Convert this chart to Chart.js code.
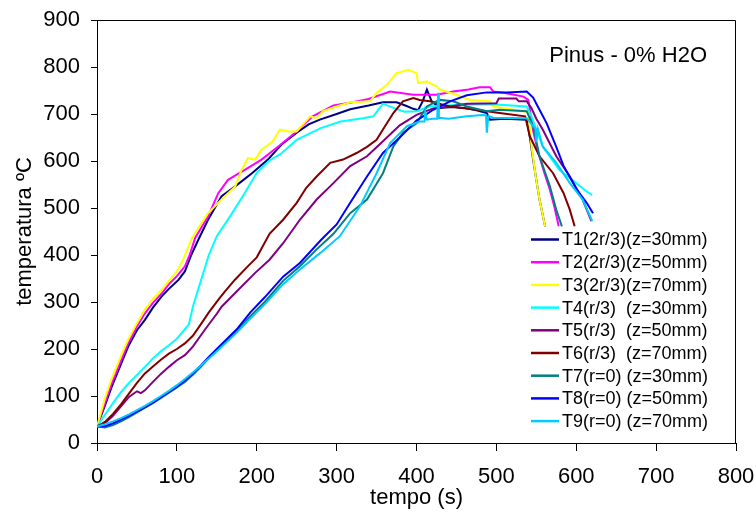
<!DOCTYPE html>
<html>
<head>
<meta charset="utf-8">
<title>Pinus - 0% H2O</title>
<script src="https://cdn.jsdelivr.net/npm/chart.js@4.4.1/dist/chart.umd.min.js"></script>
<style>
  html, body { margin: 0; padding: 0; background: #fff; }
  #grafico { display: block; }
</style>
</head>
<body>
<canvas id="grafico" width="756" height="515"></canvas>
<script>
// ========================================
// Temperaturas dos termopares - Pinus 0% H2O
// tempo (s) x temperatura (ºC)
// ========================================

const nomes = [
  "T1(2r/3)(z=30mm)",
  "T2(2r/3)(z=50mm)",
  "T3(2r/3)(z=70mm)",
  "T4(r/3)  (z=30mm)",
  "T5(r/3)  (z=50mm)",
  "T6(r/3)  (z=70mm)",
  "T7(r=0) (z=30mm)",
  "T8(r=0) (z=50mm)",
  "T9(r=0) (z=70mm)",
]

const t1 = [0, 10, 18, 30, 39, 50, 60, 70, 81, 90, 102, 110, 118, 127, 139, 156, 173, 194, 214, 231, 250, 265, 279, 300, 317, 340, 358, 375, 386, 396, 402, 408, 413, 419, 429, 445, 459, 475, 488, 492, 510, 538, 542, 546, 550, 554, 561]
const v1 = [35, 80, 118, 168, 205, 240, 262, 288, 312, 328, 347, 365, 400, 433, 475, 525, 546, 574, 603, 635, 660, 678, 688, 700, 710, 718, 725, 725, 718, 711, 708, 728, 752, 727, 713, 715, 713, 708, 702, 688, 690, 688, 650, 603, 560, 518, 461]

const t2 = [0, 10, 18, 30, 39, 50, 60, 70, 81, 90, 100, 110, 116, 123, 139, 152, 164, 185, 206, 227, 248, 270, 296, 320, 340, 367, 396, 425, 446, 465, 479, 492, 496, 509, 534, 540, 546, 552, 560, 567, 573, 578]
const v2 = [35, 85, 125, 175, 212, 248, 276, 298, 318, 338, 355, 376, 400, 437, 482, 532, 560, 581, 603, 631, 660, 695, 718, 725, 732, 748, 741, 741, 748, 752, 757, 757, 748, 745, 737, 730, 665, 620, 575, 539, 500, 461]

const t3 = [0, 10, 18, 30, 39, 50, 60, 70, 81, 90, 100, 108, 118, 123, 139, 156, 173, 181, 189, 198, 206, 219, 229, 240, 250, 267, 275, 283, 300, 317, 342, 350, 363, 375, 390, 400, 402, 413, 425, 429, 450, 467, 492, 496, 534, 540, 544, 549, 554, 561]
const v3 = [35, 95, 135, 185, 220, 255, 284, 306, 326, 345, 365, 390, 433, 447, 489, 518, 546, 581, 606, 603, 624, 640, 667, 663, 663, 695, 691, 706, 716, 725, 727, 745, 762, 787, 794, 787, 766, 769, 759, 752, 741, 730, 727, 716, 706, 702, 631, 570, 518, 461]

const t4 = [0, 10, 20, 30, 40, 50, 60, 70, 80, 90, 100, 110, 115, 120, 130, 140, 150, 165, 185, 200, 215, 230, 250, 280, 305, 333, 346, 358, 371, 385, 400, 417, 459, 500, 538, 544, 550, 558, 579, 600, 613, 620]
const v4 = [35, 60, 85, 108, 128, 145, 162, 180, 195, 208, 222, 242, 252, 290, 345, 400, 440, 478, 532, 575, 600, 615, 645, 670, 684, 691, 695, 722, 713, 705, 706, 716, 720, 720, 716, 695, 667, 631, 581, 553, 535, 528]

const t5 = [0, 10, 20, 30, 40, 50, 55, 60, 70, 80, 90, 100, 110, 120, 135, 150, 156, 177, 198, 216, 233, 254, 275, 296, 317, 338, 358, 379, 400, 421, 442, 463, 500, 503, 525, 528, 538, 544, 550, 558, 575, 592, 608, 619]
const v5 = [35, 42, 58, 78, 98, 110, 106, 112, 130, 147, 162, 176, 187, 205, 241, 275, 290, 326, 362, 390, 425, 475, 518, 553, 589, 610, 642, 676, 698, 712, 716, 722, 723, 733, 733, 727, 727, 712, 690, 667, 610, 567, 518, 472]

const t6 = [0, 10, 20, 30, 40, 50, 60, 70, 80, 90, 100, 110, 120, 131, 140, 152, 160, 173, 190, 200, 216, 233, 250, 262, 275, 292, 308, 325, 338, 350, 358, 371, 383, 396, 404, 417, 433, 442, 475, 504, 536, 542, 554, 571, 584, 592, 598]
const v6 = [35, 45, 62, 82, 105, 128, 148, 163, 177, 190, 200, 212, 228, 255, 278, 305, 322, 348, 378, 395, 445, 475, 511, 543, 567, 596, 603, 617, 630, 645, 667, 702, 727, 734, 730, 727, 720, 716, 709, 702, 695, 652, 610, 574, 532, 496, 461]

const t7 = [0, 10, 20, 30, 40, 50, 60, 70, 80, 90, 100, 110, 120, 130, 140, 150, 175, 192, 210, 233, 254, 275, 296, 317, 338, 358, 371, 383, 400, 413, 429, 446, 463, 488, 504, 538, 546, 554, 567, 575, 582]
const v7 = [35, 33, 38, 46, 55, 65, 75, 85, 96, 107, 118, 130, 145, 162, 180, 197, 238, 270, 300, 345, 376, 412, 445, 489, 518, 574, 631, 660, 680, 716, 730, 727, 716, 706, 709, 706, 674, 610, 546, 496, 461]

const t8 = [0, 10, 20, 30, 40, 50, 60, 70, 80, 90, 100, 110, 120, 130, 140, 150, 175, 192, 210, 233, 254, 281, 300, 317, 338, 358, 379, 400, 421, 442, 463, 488, 513, 538, 546, 554, 563, 575, 584, 600, 613, 621]
const v8 = [35, 36, 42, 50, 58, 67, 76, 86, 97, 108, 120, 133, 148, 165, 183, 200, 242, 278, 310, 354, 383, 433, 465, 511, 567, 617, 650, 686, 709, 727, 740, 746, 746, 748, 735, 709, 680, 630, 590, 541, 511, 489]

const t9 = [0, 10, 20, 30, 40, 50, 60, 70, 80, 90, 100, 110, 120, 130, 140, 150, 175, 192, 210, 233, 254, 280, 304, 329, 350, 367, 388, 404, 410, 411, 413, 420, 426, 427, 428, 440, 463, 483, 487, 488, 490, 496, 538, 546, 549, 550, 552, 558, 575, 592, 608, 620]
const v9 = [35, 40, 46, 53, 61, 70, 79, 89, 100, 111, 123, 136, 150, 165, 180, 195, 235, 265, 295, 338, 369, 405, 440, 503, 574, 638, 674, 684, 684, 705, 688, 690, 690, 745, 692, 690, 695, 698, 697, 660, 696, 692, 691, 674, 670, 640, 668, 631, 596, 553, 518, 472]

const ticksX = [0, 100, 200, 300, 400, 500, 600, 700, 800]
const ticksY = [0, 100, 200, 300, 400, 500, 600, 700, 800, 900]

const tempos = [t1, t2, t3, t4, t5, t6, t7, t8, t9]
const temperaturas = [v1, v2, v3, v4, v5, v6, v7, v8, v9]
const cores = ["#000080", "#FF00FF", "#FFFF00", "#00FFFF", "#800080", "#800000", "#008080", "#0000FF", "#00CCFF"]

const fonte = "'Liberation Sans', Arial, sans-serif"

// legenda e texto dentro da área do gráfico (como no Excel)
const legendaInterna = {
  id: "legendaInterna",
  afterDatasetsDraw(chart) {
    const { ctx, chartArea } = chart
    ctx.save()

    // moldura superior e direita
    ctx.strokeStyle = "#000"
    ctx.lineWidth = 1
    ctx.beginPath()
    ctx.moveTo(chartArea.left, chartArea.top + 0.5)
    ctx.lineTo(chartArea.right - 0.5, chartArea.top + 0.5)
    ctx.lineTo(chartArea.right - 0.5, chartArea.bottom)
    ctx.stroke()

    // caixa da legenda
    ctx.fillStyle = "#fff"
    ctx.fillRect(528, 228, 186, 206)

    ctx.font = "18px " + fonte
    ctx.textBaseline = "middle"
    ctx.textAlign = "left"
    nomes.forEach((nome, i) => {
      const y = 239.5 + i * 22.7
      ctx.strokeStyle = cores[i]
      ctx.lineWidth = 2.5
      ctx.beginPath()
      ctx.moveTo(531, y)
      ctx.lineTo(559, y)
      ctx.stroke()
      ctx.fillStyle = "#000"
      ctx.fillText(nome, 562, y + 1)
    })

    ctx.font = "22px " + fonte
    ctx.textAlign = "right"
    ctx.fillText("Pinus - 0% H2O", 707, 56)
    ctx.restore()
  },
}

function criarGrafico() {
  const elemento = document.getElementById("grafico")
  const ctx = elemento.getContext("2d")

  const datasets = nomes.map((nome, i) => ({
    label: nome,
    data: tempos[i].map((t, j) => ({ x: t, y: temperaturas[i][j] })),
    borderColor: cores[i],
    backgroundColor: cores[i],
    borderWidth: 2,
    pointRadius: 0,
    tension: 0,
    fill: false,
    order: nomes.length - i,
  }))

  new Chart(ctx, {
    type: "line",
    data: { datasets: datasets },
    plugins: [legendaInterna],
    options: {
      responsive: false,
      devicePixelRatio: 1,
      animation: false,
      layout: { padding: { top: 20, right: 20, left: 0, bottom: 0 } },
      plugins: {
        legend: { display: false },
        tooltip: { enabled: false },
      },
      scales: {
        x: {
          type: "linear",
          min: 0,
          max: 800,
          afterFit: (s) => {
            s.height = 72
            s.paddingLeft = 0
            s.paddingRight = 0
          },
          afterBuildTicks: (s) => { s.ticks = ticksX.map((v) => ({ value: v })) },
          grid: { drawOnChartArea: false, drawTicks: true, tickLength: 8, color: "#000" },
          border: { display: true, color: "#000", width: 1 },
          ticks: { padding: 13, color: "#000", font: { family: fonte, size: 22 }, maxRotation: 0 },
          title: { display: true, text: "tempo (s)", color: "#000", font: { family: fonte, size: 22 }, padding: { top: 0, bottom: 4 } },
        },
        y: {
          min: 0,
          max: 900,
          afterFit: (s) => {
            s.width = 97
            s.paddingTop = 0
            s.paddingBottom = 0
          },
          afterBuildTicks: (s) => { s.ticks = ticksY.map((v) => ({ value: v })) },
          grid: { drawOnChartArea: false, drawTicks: true, tickLength: 6, color: "#000" },
          border: { display: true, color: "#000", width: 1 },
          ticks: { padding: 11, color: "#000", font: { family: fonte, size: 22 } },
          title: { display: true, text: "temperatura ºC", color: "#000", font: { family: fonte, size: 22 }, padding: { top: 12, bottom: 0 } },
        },
      },
    },
  })
}

criarGrafico()
</script>
</body>
</html>
